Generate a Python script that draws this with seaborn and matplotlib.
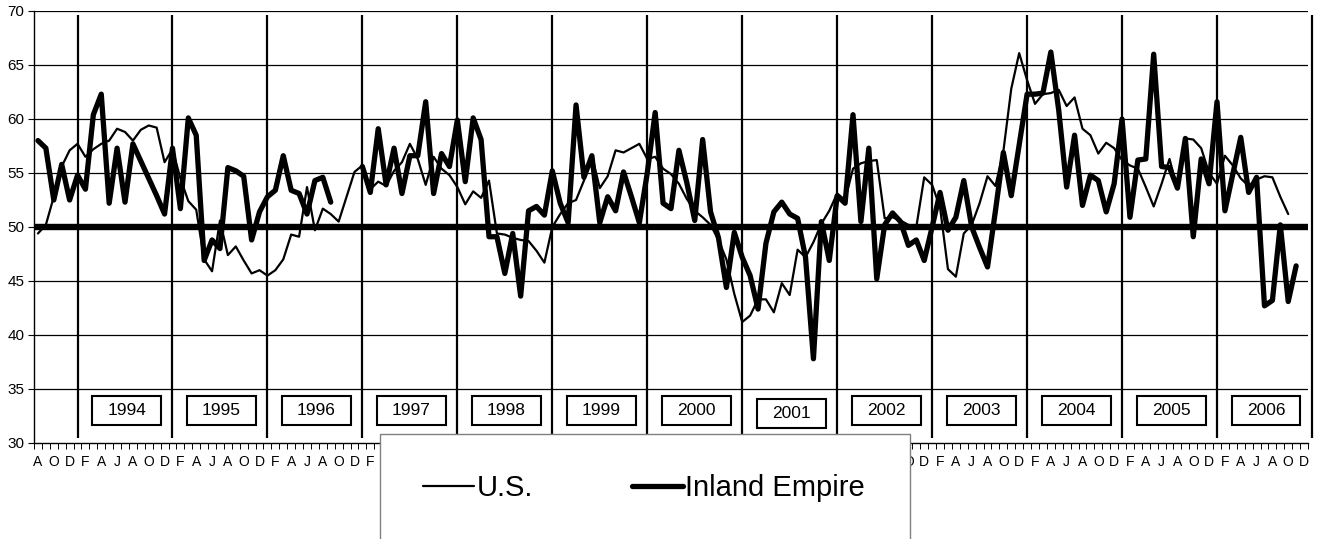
import numpy as np
import pandas as pd
import matplotlib
matplotlib.use("Agg")
import matplotlib.pyplot as plt
import matplotlib.patches as mpatches
from matplotlib.lines import Line2D
import seaborn as sns

sns.set_theme(style="white")
plt.rcParams["font.family"] = ["Liberation Sans", "DejaVu Sans"]
plt.rcParams["text.color"] = "black"
plt.rcParams["xtick.color"] = "black"
plt.rcParams["ytick.color"] = "black"
plt.rcParams["xtick.labelcolor"] = "black"
plt.rcParams["ytick.labelcolor"] = "black"

# monthly index, Aug 1993 - Dec 2006
months = pd.date_range("1993-08-01", periods=161, freq="MS")

us = [49.4, 50.2, 52.8, 55.6, 57.1, 57.7, 56.5, 57.2, 57.7, 58.0, 59.1, 58.8,
      58.0, 59.0, 59.4, 59.2, 56.0, 57.2, 54.5, 52.4, 51.6, 47.0, 45.9, 50.6,
      47.4, 48.2, 46.9, 45.7, 46.0, 45.5, 46.0, 47.0, 49.3, 49.1, 53.7, 49.7,
      51.7, 51.2, 50.5, 52.8, 55.1, 55.7, 53.5, 54.2, 53.8, 55.2, 56.0, 57.7,
      56.3, 53.9, 56.5, 55.4, 54.8, 53.7, 52.1, 53.3, 52.7, 54.3, 49.4, 49.3,
      49.0, 48.8, 48.7, 47.8, 46.7, 50.0, 51.2, 52.2, 52.5, 54.3, 56.6, 53.6,
      54.7, 57.1, 56.9, 57.3, 57.7, 56.3, 56.5, 55.4, 54.9, 54.0, 52.6, 51.5,
      50.9, 50.2, 48.8, 47.0, 43.8, 41.2, 41.8, 43.3, 43.3, 42.1, 44.8, 43.7,
      47.9, 47.2, 48.6, 50.3, 51.5, 53.1, 52.5, 55.4, 55.9, 56.1, 56.2, 50.8,
      50.9, 50.6, 50.2, 50.0, 54.6, 53.9, 51.8, 46.1, 45.4, 49.4, 50.2, 52.2,
      54.7, 53.8, 57.0, 62.8, 66.1, 63.6, 61.4, 62.3, 62.4, 62.7, 61.2, 62.0,
      59.1, 58.5, 56.8, 57.8, 57.3, 56.2, 55.7, 55.4, 53.7, 51.9, 54.0, 56.3,
      53.5, 58.2, 58.1, 57.3, 55.0, 54.0, 56.6, 55.7, 54.5, 53.8, 54.4, 54.7,
      54.6, 52.8, 51.2, np.nan, np.nan]

inland = [58.0, 57.3, 52.5, 55.8, 52.5, 54.8, 53.5, 60.4, 62.3, 52.2, 57.3, 52.3,
          57.7, 56.1, 54.5, 52.9, 51.2, 57.3, 51.7, 60.1, 58.5, 46.9, 48.8, 48.0,
          55.5, 55.2, 54.7, 48.8, 51.4, 52.8, 53.4, 56.6, 53.4, 53.1, 51.2, 54.3,
          54.6, 52.3, np.nan, np.nan, np.nan, 55.6, 53.2, 59.1, 53.9, 57.3, 53.1, 56.6,
          56.6, 61.6, 53.1, 56.8, 55.6, 59.9, 54.2, 60.1, 58.1, 49.1, 49.1, 45.7,
          49.4, 43.6, 51.5, 51.9, 51.1, 55.2, 52.2, 50.4, 61.3, 54.6, 56.6, 50.4,
          52.8, 51.5, 55.1, 52.8, 50.4, 55.0, 60.6, 52.2, 51.7, 57.1, 54.1, 50.6,
          58.1, 51.4, 49.0, 44.4, 49.5, 47.2, 45.5, 42.4, 48.5, 51.4, 52.3, 51.2,
          50.8, 47.2, 37.8, 50.5, 46.9, 52.9, 52.2, 60.4, 50.5, 57.3, 45.2, 50.2,
          51.3, 50.5, 48.3, 48.8, 46.9, 50.0, 53.2, 49.7, 50.9, 54.3, 50.0, 48.1,
          46.3, 51.5, 56.9, 52.9, 57.6, 62.3, 62.3, 62.4, 66.2, 60.8, 53.7, 58.5,
          52.0, 54.8, 54.3, 51.4, 54.0, 60.0, 50.9, 56.2, 56.3, 66.0, 55.6, 55.5,
          53.6, 58.2, 49.1, 56.3, 54.0, 61.6, 51.5, 54.9, 58.3, 53.2, 54.6, 42.7,
          43.2, 50.2, 43.1, 46.4, np.nan]

years = list(range(1994, 2007))
threshold = 50

idx = np.arange(len(months))
us_df = pd.DataFrame({"idx": idx, "val": us}).dropna()
ie_df = pd.DataFrame({"idx": idx, "val": inland})
ie_df["seg"] = ie_df["val"].isna().cumsum()
ie_df = ie_df.dropna()

fig = plt.figure(figsize=(13.27, 5.39), dpi=100)
ax = fig.add_axes([34 / 1327, 96 / 539, 1274 / 1327, 432 / 539])

ax.set_xlim(-0.5, len(months) - 0.5)
ax.set_ylim(30, 70)

# horizontal grid
for v in range(35, 71, 5):
    ax.axhline(v, color="black", lw=0.9, zorder=1)

# year separators (January of each year)
jan_pos = [int(np.where((months.year == y) & (months.month == 1))[0][0]) for y in years]
jan_pos.append(jan_pos[-1] + 12)
ax.vlines(jan_pos, 30.5, 69.6, color="black", lw=1.6, zorder=2, clip_on=False)

# year labels in boxes
for y, p in zip(years, jan_pos):
    cx = p + 6.2
    y0 = 31.35 if y == 2001 else 31.65
    ax.add_patch(mpatches.Rectangle((cx - 4.35, y0), 8.7, 2.7, facecolor="white",
                                    edgecolor="black", lw=1.5, zorder=3))
    ax.text(cx, y0 + 1.35, str(y), ha="center", va="center", fontsize=12.5, zorder=4)

sns.lineplot(data=us_df, x="idx", y="val", color="black", lw=1.6, ax=ax,
             zorder=5, solid_joinstyle="round")
sns.lineplot(data=ie_df, x="idx", y="val", units="seg", estimator=None, color="black",
             lw=3.8, ax=ax, zorder=6, solid_joinstyle="round", solid_capstyle="round")
ax.axhline(threshold, color="black", lw=4.6, zorder=7)

# axes styling
ax.set_xlabel("")
ax.set_ylabel("")
ax.set_yticks(range(30, 71, 5))
ax.tick_params(axis="y", labelsize=11, length=4, width=0.8, direction="out",
               left=True, color="black", pad=3)
ax.set_xticks(idx[::2])
ax.set_xticklabels([m[0] for m in months[::2].strftime("%b")], fontsize=10)
ax.set_xticks(np.arange(-0.5, len(months), 1), minor=True)
ax.tick_params(axis="x", which="major", length=0, pad=9)
ax.tick_params(axis="x", which="minor", length=4, width=0.7, direction="out",
               bottom=True, color="black")
for s in ["top", "right"]:
    ax.spines[s].set_visible(False)
for s in ["left", "bottom"]:
    ax.spines[s].set_color("black")
    ax.spines[s].set_linewidth(1.0)

# legend box covering lower part
fig.patches.append(mpatches.Rectangle((380 / 1327, -0.05), 530 / 1327, 105 / 539 + 0.05,
                                      transform=fig.transFigure, facecolor="white",
                                      edgecolor="#808080", lw=1.0, zorder=2))
h_us = Line2D([], [], color="black", lw=1.6)
h_ie = Line2D([], [], color="black", lw=3.8, solid_capstyle="round")
fig.legend([h_us, h_ie], ["U.S.", "Inland Empire"], loc="center left",
           bbox_to_anchor=(423 / 1327, 1 - 488 / 539), ncol=2, frameon=False,
           fontsize=21, handlelength=1.75, handletextpad=0.08, columnspacing=3.4,
           borderpad=0, borderaxespad=0, labelcolor="black")

fig.savefig("out.png", dpi=100)
